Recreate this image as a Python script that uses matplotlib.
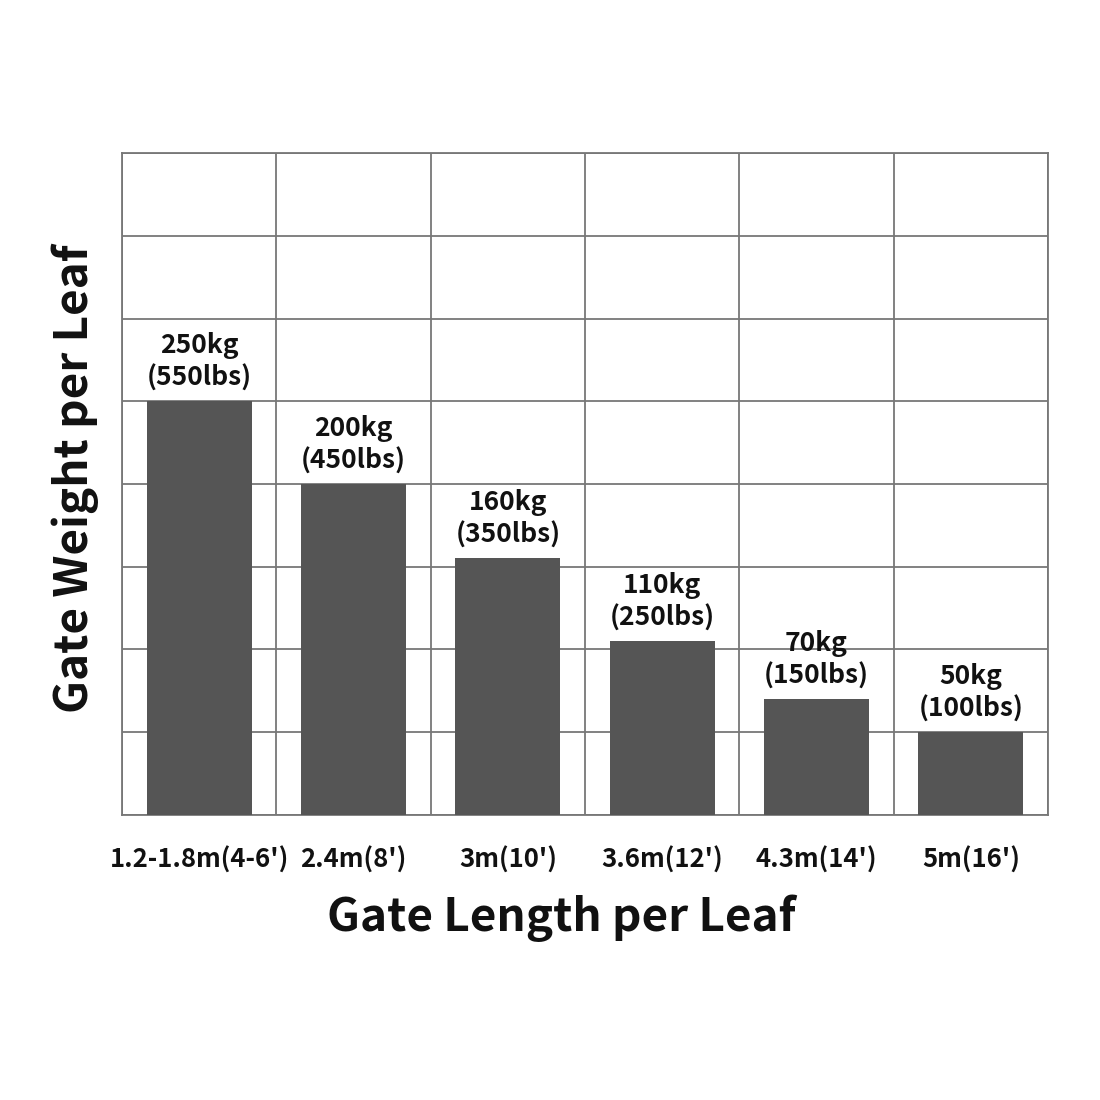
import matplotlib
matplotlib.use('Agg')
import matplotlib.pyplot as plt
import numpy as np

plt.rcParams['font.family'] = ['Noto Sans CJK SC', 'DejaVu Sans']

# gate length categories
lengths = ["1.2-1.8m(4-6')", "2.4m(8')", "3m(10')", "3.6m(12')", "4.3m(14')", "5m(16')"]
# bar heights (one grid row = 50kg)
heights = [250, 200, 155, 105, 70, 50]
kg_labels = ['250kg', '200kg', '160kg', '110kg', '70kg', '50kg']
lbs_labels = ['(550lbs)', '(450lbs)', '(350lbs)', '(250lbs)', '(150lbs)', '(100lbs)']

fig = plt.figure(figsize=(11, 11), dpi=100)
ax = fig.add_axes([0.1109, 0.2591, 0.8418, 0.6018])

x = np.arange(len(lengths))
ax.bar(x, heights, width=0.68, color='#555555', zorder=3)

for xi, h, kg, lb in zip(x, heights, kg_labels, lbs_labels):
    ax.annotate(kg + '\n' + lb, (xi, h), xytext=(0, 7), textcoords='offset points',
                ha='center', va='bottom', fontsize=19, fontweight='bold',
                linespacing=1.25, color='#111111', zorder=4)

ax.set_xlim(-0.5, len(lengths) - 0.5)
ax.set_ylim(0, 400)
ax.set_yticks(np.arange(0, 401, 50))
ax.set_xticks(np.arange(-0.5, len(lengths), 1), minor=True)
ax.set_xticks(x)
ax.set_xticklabels(lengths, fontsize=18.5, fontweight='bold', color='#111111')
ax.set_yticklabels([])
ax.tick_params(axis='both', which='both', length=0)
ax.tick_params(axis='x', pad=23)
ax.grid(True, which='minor', axis='x', color='#777777', linewidth=1.3, zorder=0)
ax.grid(True, which='major', axis='y', color='#777777', linewidth=1.3, zorder=0)
for s in ax.spines.values():
    s.set_color('#777777')
    s.set_linewidth(1.3)

fig.text(0.51, 0.165, 'Gate Length per Leaf', ha='center', va='center',
         fontsize=33, fontweight='bold', color='#111111')
fig.text(0.068, 0.565, 'Gate Weight per Leaf', ha='center', va='center',
         rotation=90, fontsize=33, fontweight='bold', color='#111111')

fig.savefig('out.png', dpi=100, facecolor='white')
